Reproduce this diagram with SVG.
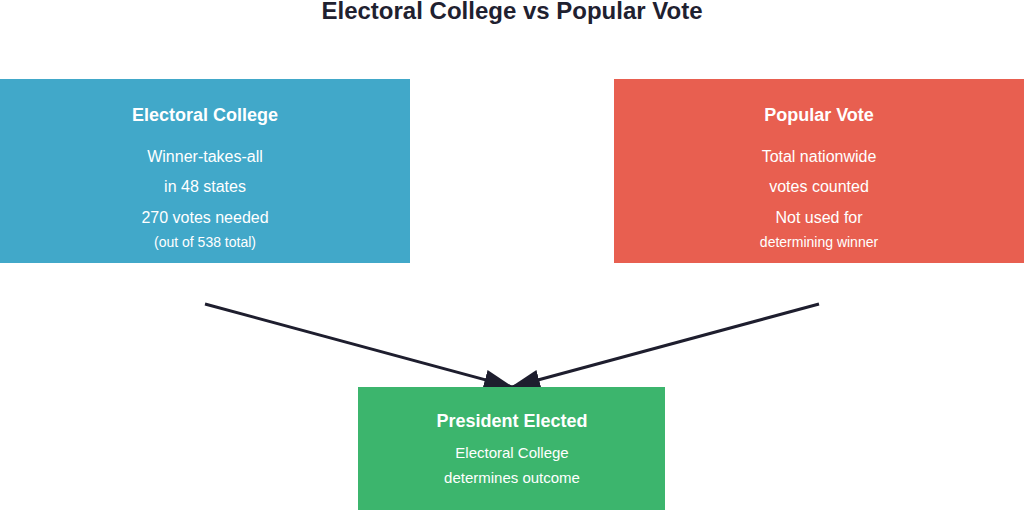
<svg xmlns="http://www.w3.org/2000/svg" width="1024" height="510" viewBox="0 0 1024 510">
<defs>
<style>
text{font-family:"Liberation Sans",Arial,sans-serif;fill:#fff;text-anchor:middle}
.title{fill:#1f2130;font-size:24px;font-weight:bold}
.h{font-size:18px;font-weight:bold}
.b{font-size:16px}
.s{font-size:14px}
.m{font-size:15px}
.conn{stroke:#1e1e2e;stroke-width:3;fill:none}
</style>
<marker id="arrow" viewBox="0 0 30 20" refX="28" refY="10" markerWidth="30" markerHeight="20" markerUnits="userSpaceOnUse" orient="auto">
<path d="M0,0 L30,10 L0,20 Z" fill="#1e1e2e"/>
</marker>
</defs>
<rect width="1024" height="510" fill="#fff"/>
<text class="title" x="512" y="19">Electoral College vs Popular Vote</text>
<g id="connectors">
<line class="conn" x1="205" y1="304" x2="512" y2="387" marker-end="url(#arrow)"/>
<line class="conn" x1="819" y1="304" x2="512" y2="387" marker-end="url(#arrow)"/>
</g>
<g id="electoral-college">
<rect x="0" y="79" width="410" height="184" fill="#41a8c9"/>
<text class="h" x="205" y="121">Electoral College</text>
<text class="b" x="205" y="162">Winner-takes-all</text>
<text class="b" x="205" y="192">in 48 states</text>
<text class="b" x="205" y="223">270 votes needed</text>
<text class="s" x="205" y="247">(out of 538 total)</text>
</g>
<g id="popular-vote">
<rect x="614" y="79" width="410" height="184" fill="#e85f50"/>
<text class="h" x="819" y="121">Popular Vote</text>
<text class="b" x="819" y="162">Total nationwide</text>
<text class="b" x="819" y="192">votes counted</text>
<text class="b" x="819" y="223">Not used for</text>
<text class="s" x="819" y="247">determining winner</text>
</g>
<g id="president-elected">
<rect x="358" y="387" width="307" height="123" fill="#3cb56d"/>
<text class="h" x="512" y="427">President Elected</text>
<text class="m" x="512" y="458">Electoral College</text>
<text class="m" x="512" y="483">determines outcome</text>
</g>
</svg>
